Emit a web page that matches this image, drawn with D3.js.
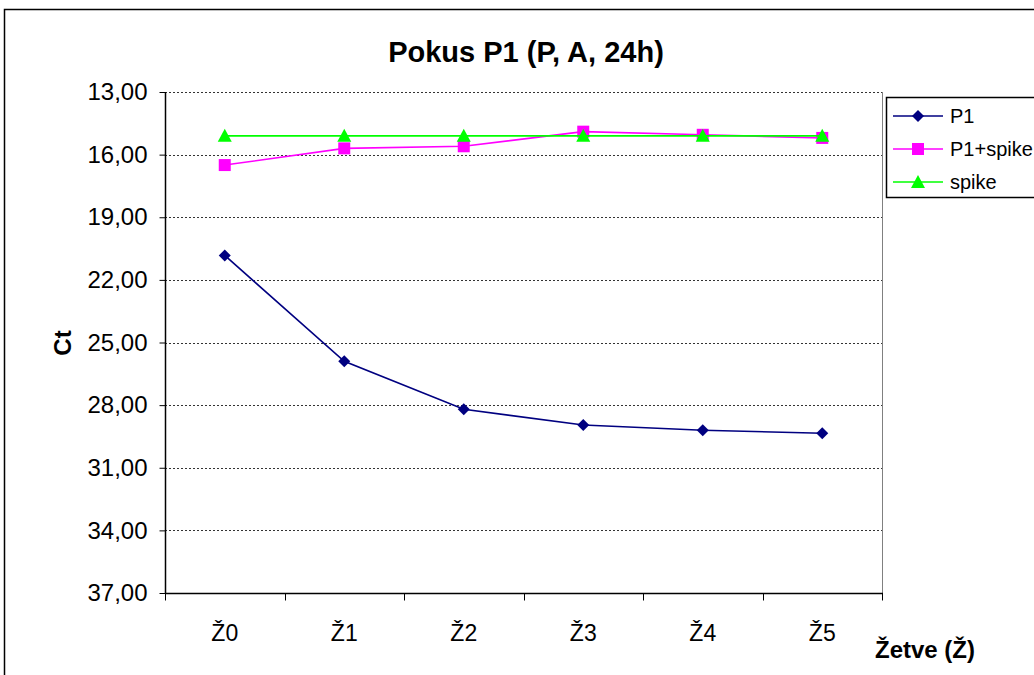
<!DOCTYPE html>
<html>
<head>
<meta charset="utf-8">
<script src="https://cdn.jsdelivr.net/npm/d3@7"></script>
<style>
  body { margin: 0; background: #fff; }
  svg { display: block; font-family: Arial, 'Liberation Sans', sans-serif; }
</style>
</head>
<body>
<svg id="chart" width="1034" height="675"></svg>
<script>
// data
const categories = ['Ž0', 'Ž1', 'Ž2', 'Ž3', 'Ž4', 'Ž5'];
const p1Values = [20.83, 25.9, 28.2, 28.95, 29.2, 29.35];
const p1SpikeValues = [16.5, 15.7, 15.6, 14.9, 15.05, 15.2];
const spikeValues = [15.1, 15.1, 15.1, 15.1, 15.1, 15.1];
const yTicks = [13, 16, 19, 22, 25, 28, 31, 34, 37];

const seriesList = [
    {name: 'P1', values: p1Values, color: '#000080', marker: 'diamond'},
    {name: 'P1+spike', values: p1SpikeValues, color: '#FF00FF', marker: 'square'},
    {name: 'spike', values: spikeValues, color: '#00FF00', marker: 'triangle'}
];

const svg = d3.select('#chart');
const plot = {left: 165, right: 882, top: 92, bottom: 593};

// outer chart frame (runs off right and bottom edge)
svg.append('rect')
    .attr('x', 4.5).attr('y', 9.5)
    .attr('width', 1100).attr('height', 700)
    .attr('fill', 'none').attr('stroke', '#000').attr('stroke-width', 1.5);

const x = d3.scaleBand().domain(categories).range([plot.left, plot.right]);
const y = d3.scaleLinear().domain([13, 37]).range([plot.top, plot.bottom]);

// gridlines
svg.append('g')
    .selectAll('line')
    .data(yTicks)
    .enter()
    .append('line')
    .attr('x1', plot.left).attr('x2', plot.right)
    .attr('y1', d => Math.round(y(d)) + 0.5).attr('y2', d => Math.round(y(d)) + 0.5)
    .attr('stroke', '#333').attr('stroke-width', 1)
    .attr('stroke-dasharray', '2,2');

// right edge of plot area
svg.append('line')
    .attr('x1', plot.right + 0.5).attr('x2', plot.right + 0.5)
    .attr('y1', plot.top).attr('y2', plot.bottom)
    .attr('stroke', '#808080').attr('stroke-width', 1);

// y axis
const yAxis = d3.axisLeft(y)
    .tickValues(yTicks)
    .tickSize(6)
    .tickPadding(12)
    .tickFormat(d => d3.format('.2f')(d).replace('.', ','));
const yAxisGroup = svg.append('g')
    .attr('transform', `translate(${plot.left + 0.5},0)`)
    .call(yAxis);
yAxisGroup.select('.domain').attr('stroke', '#000').attr('stroke-width', 1.5).attr('d', `M0,${plot.top}V${plot.bottom}`);
yAxisGroup.selectAll('.tick line').attr('stroke', '#000');
yAxisGroup.selectAll('.tick text')
    .attr('font-size', 24).attr('fill', '#000')
    .attr('font-family', 'Arial, Liberation Sans, sans-serif');

// x axis: ticks on band boundaries
const xAxisGroup = svg.append('g')
    .attr('transform', `translate(0,${plot.bottom + 0.5})`);
xAxisGroup.append('line')
    .attr('x1', plot.left).attr('x2', plot.right + 1)
    .attr('stroke', '#000').attr('stroke-width', 1.5);
const boundaries = categories.map(c => x(c)).concat([x.range()[1]]);
xAxisGroup.selectAll('line.tick')
    .data(boundaries)
    .enter()
    .append('line')
    .attr('class', 'tick')
    .attr('x1', d => Math.round(d) + 0.5).attr('x2', d => Math.round(d) + 0.5)
    .attr('y1', 0).attr('y2', 7)
    .attr('stroke', '#000');
xAxisGroup.selectAll('text')
    .data(categories)
    .enter()
    .append('text')
    .attr('x', d => x(d) + x.bandwidth() / 2)
    .attr('y', 47)
    .attr('text-anchor', 'middle')
    .attr('font-size', 23)
    .text(d => d);

// series lines and markers
const line = d3.line()
    .x((d, i) => x(categories[i]) + x.bandwidth() / 2)
    .y(d => y(d));

const markerPath = (type, size) => {
    const h = size / 2;
    if (type === 'diamond') return `M0,${-h}L${h},0L0,${h}L${-h},0Z`;
    if (type === 'square') return `M${-h},${-h}H${h}V${h}H${-h}Z`;
    return `M0,${-h - 1}L${h + 1},${h}H${-h - 1}Z`;
};

seriesList.forEach(series => {
    const g = svg.append('g');
    g.append('path')
        .datum(series.values)
        .attr('d', line)
        .attr('fill', 'none')
        .attr('stroke', series.color)
        .attr('stroke-width', 1.6);
    g.selectAll('path.marker')
        .data(series.values)
        .enter()
        .append('path')
        .attr('class', 'marker')
        .attr('transform', (d, i) => `translate(${x(categories[i]) + x.bandwidth() / 2},${y(d)})`)
        .attr('d', markerPath(series.marker, 12))
        .attr('fill', series.color);
});

// title
svg.append('text')
    .attr('x', 526).attr('y', 62)
    .attr('text-anchor', 'middle')
    .attr('font-size', 29).attr('font-weight', 'bold')
    .text('Pokus P1 (P, A, 24h)');

// axis titles
svg.append('text')
    .attr('transform', 'translate(71,343) rotate(-90)')
    .attr('text-anchor', 'middle')
    .attr('font-size', 24).attr('font-weight', 'bold')
    .text('Ct');
svg.append('text')
    .attr('x', 925).attr('y', 658)
    .attr('text-anchor', 'middle')
    .attr('font-size', 24).attr('font-weight', 'bold')
    .text('Žetve (Ž)');

// legend
const legend = svg.append('g').attr('transform', 'translate(886,97)');
legend.append('rect')
    .attr('x', 0.5).attr('y', 0.5)
    .attr('width', 200).attr('height', 100)
    .attr('fill', '#fff').attr('stroke', '#000').attr('stroke-width', 1.5);
seriesList.forEach((series, i) => {
    const row = legend.append('g').attr('transform', `translate(0,${19 + i * 33})`);
    row.append('line')
        .attr('x1', 7).attr('x2', 57)
        .attr('stroke', series.color).attr('stroke-width', 1.6);
    row.append('path')
        .attr('transform', 'translate(32,0)')
        .attr('d', markerPath(series.marker, 12))
        .attr('fill', series.color);
    row.append('text')
        .attr('x', 64).attr('y', 7)
        .attr('font-size', 20)
        .text(series.name);
});
</script>
</body>
</html>
